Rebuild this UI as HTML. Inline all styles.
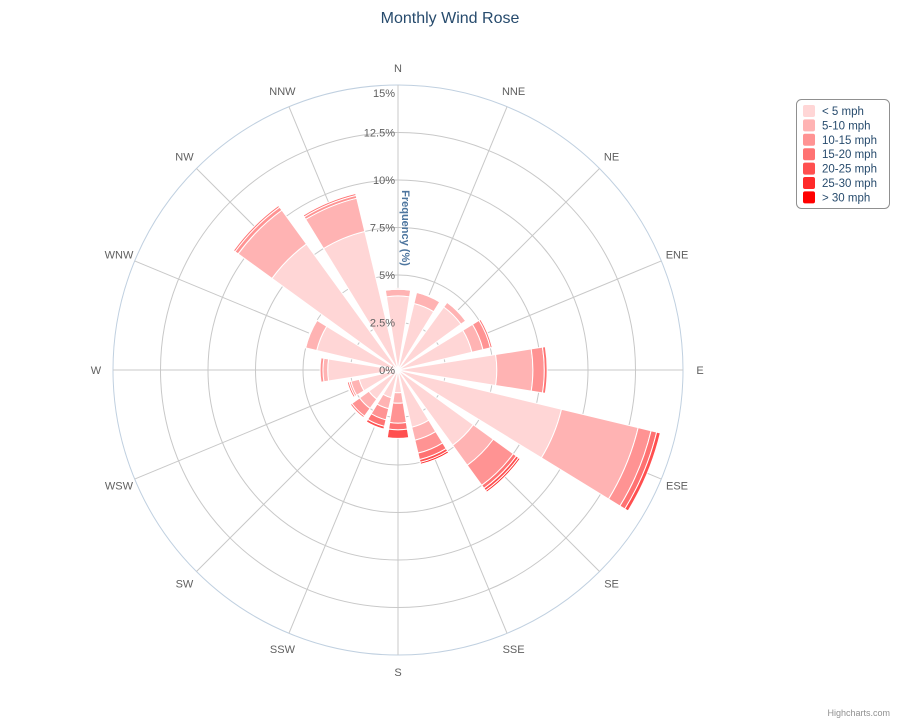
<!DOCTYPE html>
<html><head><meta charset="utf-8"><style>
html,body{margin:0;padding:0;background:#fff;}
svg{display:block;font-family:"Liberation Sans",sans-serif;}
</style></head><body>
<svg id="chart" width="900" height="720" viewBox="0 0 900 720">
<text x="450" y="23" text-anchor="middle" font-size="16" fill="#274b6d">Monthly Wind Rose</text>
<g id="grid"></g>
<g id="bars"></g>
<g id="ylabels"></g>
<g id="xlabels"></g>
<text transform="translate(402,228) rotate(90)" text-anchor="middle" font-size="11" font-weight="bold" fill="#4d759e">Frequency (%)</text>
<g id="legend"></g>
<text x="890" y="716" text-anchor="end" font-size="9" fill="#909090">Highcharts.com</text>
</svg>
<script>
const directions = ['N','NNE','NE','ENE','E','ESE','SE','SSE','S','SSW','SW','WSW','W','WNW','NW','NNW'];
const seriesNames = ['< 5 mph','5-10 mph','10-15 mph','15-20 mph','20-25 mph','25-30 mph','> 30 mph'];
const s1 = [3.9,3.6,4.1,4.0,5.2,8.85,4.9,3.1,1.2,1.5,1.9,2.1,3.7,4.4,8.2,7.5];
const s2 = [0.35,0.6,0.3,0.6,1.9,4.15,1.3,0.7,0.55,0.6,0.6,0.45,0.25,0.6,2.2,1.8];
const s3 = [0.05,0.05,0.05,0.4,0.6,0.7,1.3,0.7,1.05,0.6,0.5,0.1,0.15,0.05,0.2,0.15];
const s4 = [0,0,0,0.1,0.15,0.3,0.2,0.35,0.35,0.35,0.1,0.1,0,0,0.1,0.1];
const s5 = [0,0,0,0,0,0.2,0.15,0.15,0.45,0.15,0.05,0.05,0,0,0,0];
const s6 = [0,0,0,0,0,0,0.1,0.1,0,0.05,0,0,0,0,0,0];
const s7 = [0,0,0,0,0,0,0,0,0,0,0,0,0,0,0,0];
const yTicks = [0,2.5,5,7.5,10,12.5,15];
const yTickLabels = ['0%','2.5%','5%','7.5%','10%','12.5%','15%'];
const colors = ['#ffd6d6','#ffb3b3','#ff9393','#ff7272','#ff4f4f','#ff2a2a','#ff0000'];
const NS='http://www.w3.org/2000/svg';
const cx=398, cy=370, R=285, yMax=15;
function rScale(v){return v/yMax*R;}
function angleOf(i){return i*360/directions.length;}
function pt(aDeg,r){const a=aDeg*Math.PI/180;return [cx+r*Math.sin(a), cy-r*Math.cos(a)];}
function mk(tag,attrs,parent){const e=document.createElementNS(NS,tag);for(const k in attrs)e.setAttribute(k,attrs[k]);parent.appendChild(e);return e;}
const grid=document.getElementById('grid');
yTicks.forEach((t,i)=>{ if(t===0)return;
  const c=mk('circle',{cx:cx,cy:cy,r:rScale(t),fill:'none',stroke:i===yTicks.length-1?'#c0d0e0':'#c8c8c8','stroke-width':1},grid);
  
  
});
directions.forEach((d,i)=>{
  const p=pt(angleOf(i),R);
  const l=mk('line',{x1:cx,y1:cy,x2:p[0],y2:p[1],stroke:'#c8c8c8','stroke-width':1},grid);
  
  
  const q=pt(angleOf(i),302);
  const t=mk('text',{x:q[0],y:q[1]+4,'text-anchor':'middle','font-size':11,fill:'#606060'},document.getElementById('xlabels'));
  t.textContent=d;
  
  
});
const series=[s1,s2,s3,s4,s5,s6,s7];
const half=9;
function sector(a,r0,r1){
  const a0=a-half,a1=a+half;
  const p0=pt(a0,r1),p1=pt(a1,r1),p2=pt(a1,r0),p3=pt(a0,r0);
  let d='M'+p0[0]+','+p0[1]+' A'+r1+','+r1+' 0 0 1 '+p1[0]+','+p1[1]+' L'+p2[0]+','+p2[1];
  if(r0>0) d+=' A'+r0+','+r0+' 0 0 0 '+p3[0]+','+p3[1];
  return d+' Z';
}
const bars=document.getElementById('bars');
directions.forEach((d,i)=>{
  let acc=0;
  series.forEach((s,k)=>{
    const v=s[i]; if(v<=0)return;
    const r0=rScale(acc), r1=rScale(acc+v); acc+=v;
    const p=mk('path',{d:sector(angleOf(i),r0,r1),fill:colors[k],stroke:'#fff','stroke-width':1},bars);
    
    
  });
});
const yl=document.getElementById('ylabels');
yTicks.forEach((t,i)=>{
  const tx=mk('text',{x:395,y:cy-rScale(t)+(i===yTicks.length-1?12:4),'text-anchor':'end','font-size':11,fill:'#606060'},yl);
  tx.textContent=yTickLabels[i];
  
  
});
const lg=document.getElementById('legend');
const box=mk('rect',{x:796.5,y:99.5,width:93,height:109,rx:5,fill:'#fff',stroke:'#909090','stroke-width':1},lg);


seriesNames.forEach((n,k)=>{
  const y=111+k*14.4;
  const g=mk('g',{},lg);
  
  
  mk('rect',{x:803,y:y-6,width:12,height:12,rx:2,fill:colors[k]},g);
  const t=mk('text',{x:822,y:y+4,'font-size':11.5,fill:'#274b6d'},g);
  t.textContent=n;
});
</script>
</body></html>
